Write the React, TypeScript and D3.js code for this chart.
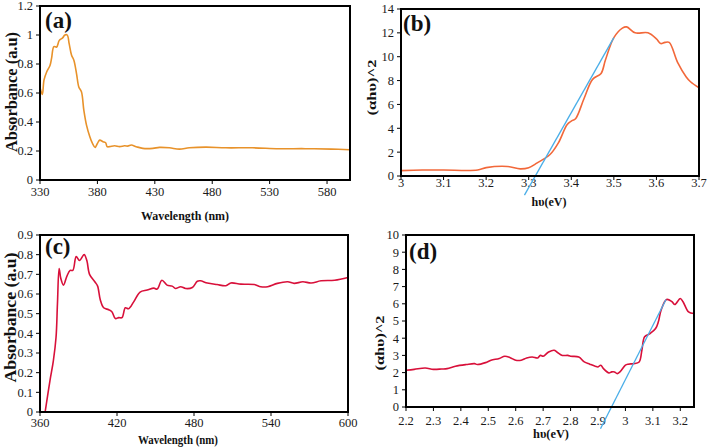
// @ts-nocheck
import React from 'react';
import * as d3 from 'd3';

// (a) absorbance vs wavelength
const aWavelength = [330, 332, 333.5, 335.8, 338.7, 340.1, 342.1, 344.5, 346.8, 349.7, 351.7, 353.7, 355.4, 357.5, 359.5, 361.8, 363.8, 366.1, 368.2, 370.5, 373.4, 375.7, 378, 380, 382, 384.9, 387.2, 388.4, 390.7, 395, 399.4, 403.7, 406.6, 409.5, 413.8, 419.6, 428.3, 434, 442.7, 451.4, 460, 474.5, 491.8, 515, 538, 561, 584, 599.5];
const aAbsorbance = [0.638, 0.59, 0.69, 0.745, 0.79, 0.84, 0.92, 0.917, 0.963, 0.98, 1.0, 1.0, 0.94, 0.86, 0.826, 0.734, 0.642, 0.608, 0.48, 0.378, 0.298, 0.252, 0.225, 0.252, 0.275, 0.264, 0.257, 0.23, 0.23, 0.236, 0.23, 0.236, 0.234, 0.241, 0.23, 0.218, 0.218, 0.225, 0.222, 0.213, 0.222, 0.227, 0.222, 0.222, 0.216, 0.216, 0.213, 0.209];
const aXTicks = [330, 380, 430, 480, 530, 580];
const aYTicks = [0, 0.2, 0.4, 0.6, 0.8, 1, 1.2];

// (b) Tauc plot
const bEnergy = [3.0, 3.05, 3.1, 3.18, 3.2, 3.25, 3.28, 3.3, 3.32, 3.35, 3.37, 3.39, 3.4, 3.41, 3.43, 3.45, 3.47, 3.48, 3.5, 3.52, 3.53, 3.55, 3.58, 3.6, 3.61, 3.62, 3.63, 3.65, 3.67, 3.68, 3.7];
const bValue = [0.45, 0.5, 0.5, 0.5, 0.7, 0.8, 0.6, 0.7, 1.1, 1.8, 2.8, 4.3, 4.6, 4.8, 6.5, 8.1, 8.6, 9.7, 11.6, 12.4, 12.5, 12.0, 12.0, 11.5, 11.1, 11.2, 11.2, 9.5, 8.3, 7.9, 7.4];
const bFitX = [3.29, 3.5];
const bFitY = [-1.6, 11.6];
const bXTicks = [3, 3.1, 3.2, 3.3, 3.4, 3.5, 3.6, 3.7];
const bYTicks = [0, 2, 4, 6, 8, 10, 12, 14];

// (c) absorbance vs wavelength
const cWavelength = [364, 367.8, 370.4, 372.5, 373.6, 374.9, 376.2, 378.3, 380.9, 383.5, 385.6, 388.2, 390.8, 394.4, 396.5, 398.6, 403, 404.9, 407, 409.6, 413.5, 416, 418.7, 421.3, 423.9, 426.5, 429, 433, 438, 443.5, 448.7, 451.3, 455, 459, 463, 465.6, 469.6, 473.5, 478.7, 482.6, 485, 490.4, 498, 504.8, 508.7, 516.5, 527, 532, 537.4, 545, 553, 558, 564.8, 571.3, 579, 589.6, 600];
const cAbsorbance = [0, 0.161, 0.26, 0.38, 0.55, 0.73, 0.68, 0.645, 0.69, 0.72, 0.72, 0.79, 0.77, 0.8, 0.77, 0.7, 0.66, 0.64, 0.57, 0.53, 0.52, 0.51, 0.475, 0.48, 0.48, 0.53, 0.525, 0.56, 0.61, 0.62, 0.63, 0.625, 0.67, 0.645, 0.64, 0.628, 0.637, 0.628, 0.633, 0.665, 0.667, 0.656, 0.648, 0.642, 0.656, 0.65, 0.648, 0.637, 0.637, 0.654, 0.662, 0.654, 0.662, 0.656, 0.667, 0.67, 0.684];
const cXTicks = [360, 420, 480, 540, 600];
const cYTicks = [0, 0.1, 0.2, 0.3, 0.4, 0.5, 0.6, 0.7, 0.8, 0.9];

// (d) Tauc plot
const dEnergy = [2.2, 2.23, 2.27, 2.3, 2.33, 2.35, 2.38, 2.42, 2.45, 2.46, 2.49, 2.51, 2.54, 2.56, 2.58, 2.6, 2.62, 2.64, 2.66, 2.68, 2.69, 2.7, 2.72, 2.74, 2.75, 2.77, 2.79, 2.8, 2.83, 2.85, 2.87, 2.89, 2.9, 2.91, 2.92, 2.94, 2.95, 2.96, 2.97, 2.98, 3.0, 3.01, 3.03, 3.05, 3.06, 3.07, 3.09, 3.11, 3.12, 3.13, 3.15, 3.17, 3.18, 3.2, 3.21, 3.23, 3.25];
const dValue = [2.14, 2.19, 2.27, 2.19, 2.21, 2.23, 2.37, 2.47, 2.52, 2.47, 2.58, 2.72, 2.82, 2.95, 2.87, 2.72, 2.72, 2.85, 2.91, 2.85, 3.0, 2.95, 3.2, 3.3, 3.2, 3.0, 3.0, 2.95, 2.91, 2.62, 2.49, 2.37, 2.33, 2.43, 2.23, 1.98, 2.04, 2.04, 1.94, 2.04, 2.43, 2.49, 2.52, 2.62, 3.3, 4.08, 4.27, 4.56, 4.95, 5.63, 6.25, 6.12, 5.96, 6.31, 6.12, 5.53, 5.44];
const dFitX = [2.909, 3.148];
const dFitY = [-1.26, 6.25];
const dXTicks = [2.2, 2.3, 2.4, 2.5, 2.6, 2.7, 2.8, 2.9, 3, 3.1, 3.2];
const dYTicks = [0, 1, 2, 3, 4, 5, 6, 7, 8, 9, 10];

const SERIF = '"Liberation Serif", "Times New Roman", serif';

function Panel({ box, xDomain, yDomain, xTicks, yTicks, xs, ys, color, fitX, fitY, label, xTitle, yTitle, yTitleStyle, xTitleY, tickLabelY, fmtY }) {
  const x = d3.scaleLinear().domain(xDomain).range([box.x0, box.x1]);
  const y = d3.scaleLinear().domain(yDomain).range([box.y1, box.y0]);
  const line = d3.line().x((d) => x(d[0])).y((d) => y(d[1])).curve(d3.curveCatmullRom.alpha(0.5));
  const pts = xs.map((v, i) => [v, ys[i]]);
  const fit = fitX ? fitX.map((v, i) => [v, fitY[i]]) : null;
  const midY = (box.y0 + box.y1) / 2;
  return (
    <g fontFamily={SERIF}>
      {yTicks.map((t) => (
        <g key={'y' + t}>
          <line x1={box.x0 - 4} x2={box.x0} y1={y(t)} y2={y(t)} stroke="#000" strokeWidth={1} />
          <text x={box.x0 - 7} y={y(t)} dy="0.35em" textAnchor="end" fontSize={12.5} fill="#1a1a1a">
            {fmtY(t)}
          </text>
        </g>
      ))}
      {xTicks.map((t) => (
        <g key={'x' + t}>
          <line x1={x(t)} x2={x(t)} y1={box.y1} y2={box.y1 + 4} stroke="#000" strokeWidth={1} />
          <text x={x(t)} y={tickLabelY} dy="0.35em" textAnchor="middle" fontSize={12.5} fill="#1a1a1a">
            {String(t)}
          </text>
        </g>
      ))}
      <path d={line(pts)} fill="none" stroke={color} strokeWidth={1.6} />
      {fit && <path d={d3.line().x((d) => x(d[0])).y((d) => y(d[1]))(fit)} fill="none" stroke="#4aaee8" strokeWidth={1.3} />}
      <rect x={box.x0} y={box.y0} width={box.x1 - box.x0} height={box.y1 - box.y0} fill="none" stroke="#000" strokeWidth={2} />
      <text x={box.x0 + label.dx} y={box.y0 + label.dy} fontSize={23} fontWeight="bold" fill="#111">
        {label.text}
      </text>
      <text x={(box.x0 + box.x1) / 2 + xTitle.dx} y={xTitleY} dy="0.35em" textAnchor="middle" fontSize={12} fontWeight="bold" fill="#111" textLength={xTitle.len} lengthAdjust="spacingAndGlyphs">
        {xTitle.text}
      </text>
      <text
        transform={`translate(${yTitleStyle.x},${midY + yTitleStyle.dy}) rotate(-90)`}
        dy="0.35em"
        textAnchor="middle"
        fontSize={yTitleStyle.size}
        fontWeight="bold"
        fill="#111"
        textLength={yTitleStyle.len}
        lengthAdjust="spacingAndGlyphs"
      >
        {yTitle}
      </text>
    </g>
  );
}

export default function App() {
  const f1 = (t) => (t === 0 ? '0' : d3.format('.1f')(t).replace(/\.0$/, ''));
  const fInt = (t) => String(t);
  return (
    <div style={{ position: 'fixed', left: 0, top: 0, width: 709, height: 447, background: '#fff' }}>
      <svg width={709} height={447} style={{ display: 'block' }}>
        <rect width={709} height={447} fill="#fff" />
        <Panel
          box={{ x0: 40, x1: 350, y0: 6, y1: 180 }}
          xDomain={[330, 600]}
          yDomain={[0, 1.2]}
          xTicks={aXTicks}
          yTicks={aYTicks}
          xs={aWavelength}
          ys={aAbsorbance}
          color="#e8922a"
          label={{ text: '(a)', dx: 5, dy: 22 }}
          xTitle={{ text: 'Wavelength (nm)', dx: -10, len: 88 }}
          xTitleY={216}
          tickLabelY={192}
          yTitle="Absorbance (a.u)"
          yTitleStyle={{ x: 11, dy: -1, size: 16.5, len: 120 }}
          fmtY={f1}
        />
        <Panel
          box={{ x0: 401, x1: 699, y0: 9, y1: 176 }}
          xDomain={[3, 3.7]}
          yDomain={[0, 14]}
          xTicks={bXTicks}
          yTicks={bYTicks}
          xs={bEnergy}
          ys={bValue}
          color="#f2683a"
          fitX={bFitX}
          fitY={bFitY}
          label={{ text: '(b)', dx: 2, dy: 22 }}
          xTitle={{ text: 'hυ(eV)', dx: -1, len: 35 }}
          xTitleY={202}
          tickLabelY={183}
          yTitle="(αhυ)^2"
          yTitleStyle={{ x: 372, dy: -5, size: 12.5, len: 56 }}
          fmtY={fInt}
        />
        <Panel
          box={{ x0: 40, x1: 348, y0: 235, y1: 412 }}
          xDomain={[360, 600]}
          yDomain={[0, 0.9]}
          xTicks={cXTicks}
          yTicks={cYTicks}
          xs={cWavelength}
          ys={cAbsorbance}
          color="#d8103a"
          label={{ text: '(c)', dx: 5, dy: 19 }}
          xTitle={{ text: 'Wavelength (nm)', dx: -16, len: 80 }}
          xTitleY={440}
          tickLabelY={423}
          yTitle="Absorbance (a.u)"
          yTitleStyle={{ x: 10, dy: -6, size: 17.5, len: 130 }}
          fmtY={f1}
        />
        <Panel
          box={{ x0: 406, x1: 694, y0: 235, y1: 407 }}
          xDomain={[2.2, 3.25]}
          yDomain={[0, 10]}
          xTicks={dXTicks}
          yTicks={dYTicks}
          xs={dEnergy}
          ys={dValue}
          color="#d8103a"
          fitX={dFitX}
          fitY={dFitY}
          label={{ text: '(d)', dx: 3, dy: 24 }}
          xTitle={{ text: 'hυ(eV)', dx: 1, len: 36 }}
          xTitleY={434}
          tickLabelY={421}
          yTitle="(αhυ)^2"
          yTitleStyle={{ x: 380, dy: 22, size: 12.5, len: 55 }}
          fmtY={fInt}
        />
      </svg>
    </div>
  );
}
